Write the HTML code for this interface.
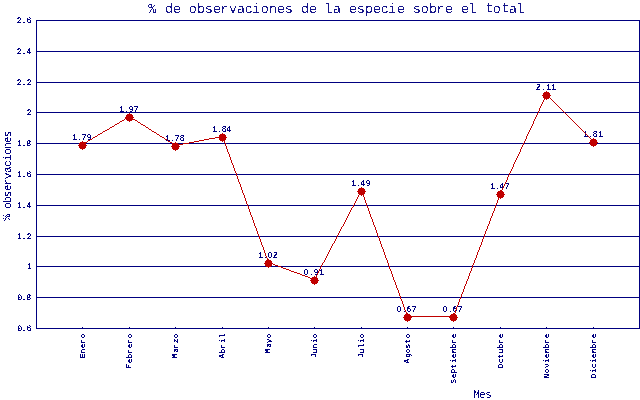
<!DOCTYPE html>
<html><head><meta charset="utf-8"><title>% de observaciones de la especie sobre el total</title>
<style>html,body{margin:0;padding:0;background:#fff;width:640px;height:400px;overflow:hidden}svg{display:block;shape-rendering:crispEdges}
text{font-family:"Liberation Mono",monospace;text-rendering:geometricPrecision}</style></head>
<body><svg width="640" height="400" viewBox="0 0 640 400">
<rect width="640" height="400" fill="#fff"/>
<path fill="#000080" d="M36 328h604v1h-604zM36 297h604v1h-604zM36 266h604v1h-604zM36 236h604v1h-604zM36 205h604v1h-604zM36 174h604v1h-604zM36 143h604v1h-604zM36 112h604v1h-604zM36 82h604v1h-604zM36 51h604v1h-604zM36 20h604v1h-604zM36 20h1v309h-1zM639 20h1v309h-1zM82 327h1v1h-1zM129 327h1v1h-1zM175 327h1v1h-1zM222 327h1v1h-1zM268 327h1v1h-1zM314 327h1v1h-1zM361 327h1v1h-1zM407 327h1v1h-1zM453 327h1v1h-1zM500 327h1v1h-1zM546 327h1v1h-1zM593 327h1v1h-1z"/>
<defs><filter id="cylab" x="-10%" y="-50%" width="120%" height="200%" color-interpolation-filters="sRGB"><feComponentTransfer><feFuncA type="discrete" tableValues="0 1 1"/></feComponentTransfer></filter><filter id="cmon" x="-10%" y="-50%" width="120%" height="200%" color-interpolation-filters="sRGB"><feComponentTransfer><feFuncA type="discrete" tableValues="0 1"/></feComponentTransfer></filter><filter id="clarge" x="-10%" y="-50%" width="120%" height="200%" color-interpolation-filters="sRGB"><feComponentTransfer><feFuncA type="discrete" tableValues="0 1"/></feComponentTransfer></filter><filter id="csmall" x="-10%" y="-50%" width="120%" height="200%" color-interpolation-filters="sRGB"><feComponentTransfer><feFuncA type="discrete" tableValues="0 1"/></feComponentTransfer></filter><filter id="cmes" x="-10%" y="-50%" width="120%" height="200%" color-interpolation-filters="sRGB"><feComponentTransfer><feFuncA type="discrete" tableValues="0 1"/></feComponentTransfer></filter><filter id="cvlab" x="-10%" y="-50%" width="120%" height="200%" color-interpolation-filters="sRGB"><feComponentTransfer><feFuncA type="discrete" tableValues="0 0 1"/></feComponentTransfer></filter></defs>
<g fill="#000080"><g filter="url(#cylab)"><text transform="translate(17 324) scale(0.985 1)" x="0.198 4.513 9.589" y="6.5" font-size="8.35" font-weight="normal">0.6</text>
<text transform="translate(17 293) scale(0.985 1)" x="0.198 4.513 9.335" y="6.5" font-size="8.35" font-weight="normal">0.8</text>
<text transform="translate(27 262) scale(0.985 1)" x="-0.056" y="6.5" font-size="8.35" font-weight="normal">1</text>
<text transform="translate(17 232) scale(0.985 1)" x="-0.056 4.513 9.843" y="6.5" font-size="8.35" font-weight="normal">1.2</text>
<text transform="translate(17 201) scale(0.985 1)" x="-0.056 4.513 9.335" y="6.5" font-size="8.35" font-weight="normal">1.4</text>
<text transform="translate(17 170) scale(0.985 1)" x="-0.056 4.513 9.589" y="6.5" font-size="8.35" font-weight="normal">1.6</text>
<text transform="translate(17 139) scale(0.985 1)" x="-0.056 4.513 9.335" y="6.5" font-size="8.35" font-weight="normal">1.8</text>
<text transform="translate(27 108) scale(0.985 1)" x="-0.309" y="6.5" font-size="8.35" font-weight="normal">2</text>
<text transform="translate(17 78) scale(0.985 1)" x="-0.309 4.513 9.843" y="6.5" font-size="8.35" font-weight="normal">2.2</text>
<text transform="translate(17 47) scale(0.985 1)" x="-0.309 4.513 9.335" y="6.5" font-size="8.35" font-weight="normal">2.4</text>
<text transform="translate(17 16) scale(0.985 1)" x="-0.309 4.513 9.589" y="6.5" font-size="8.35" font-weight="normal">2.6</text></g>
<g filter="url(#cmon)"><text transform="translate(78 358) rotate(-90)" x="-0.25 4.5 9.75 14.25 19.75" y="6.5" font-size="7.75" font-weight="bold">Enero</text>
<text transform="translate(125 368) rotate(-90)" x="-0.5 4.75 9.5 14.25 19.75 24.25 29.75" y="6 6.5 6.5 6.5 6.5 6.5 6.5" font-size="7.75" font-weight="bold">Febrero</text>
<text transform="translate(171 358) rotate(-90)" x="-0.5 5 9.25 14.75 19.75" y="6 7 6.5 6.5 6.5" font-size="7.75" font-weight="bold">Marzo</text>
<text transform="translate(218 358) rotate(-90)" x="-0.5 4.5 9.25 15 20" y="6 6.5 6.5 6.5 6.5" font-size="7.75" font-weight="bold">Abril</text>
<text transform="translate(264 353) rotate(-90)" x="-0.5 5 9.75 14.75" y="6 7 6.5 6.5" font-size="7.75" font-weight="bold">Mayo</text>
<text transform="translate(310 358) rotate(-90)" x="0.25 4.75 9.5 15 19.75" y="6 6.5 6.5 6.5 6.5" font-size="7.75" font-weight="bold">Junio</text>
<text transform="translate(357 358) rotate(-90)" x="0.25 4.75 10 15 19.75" y="6 6.5 6.5 6.5 6.5" font-size="7.75" font-weight="bold">Julio</text>
<text transform="translate(403 363) rotate(-90)" x="-0.5 5 9.75 14.5 19.5 24.75" y="6 6.5 6.5 6.5 6.5 6.5" font-size="7.75" font-weight="bold">Agosto</text>
<text transform="translate(449 383) rotate(-90)" x="-0.5 4.75 9.5 14.5 20 24.75 29.5 34.5 39.25 44.75" y="6.5 6.5 6 6.5 6.5 6.5 6.5 6.5 6.5 6.5" font-size="7.75" font-weight="bold">Septiembre</text>
<text transform="translate(496 368) rotate(-90)" x="-0.5 4.75 9.5 14.75 19.5 24.25 29.75" y="6.5" font-size="7.75" font-weight="bold">Octubre</text>
<text transform="translate(542 378) rotate(-90)" x="-0.25 4.75 10 15 19.75 24.5 29.5 34.25 39.75" y="6.5" font-size="7.75" font-weight="bold">Noviembre</text>
<text transform="translate(589 378) rotate(-90)" x="-0.25 5 9.75 15 19.75 24.5 29.5 34.25 39.75" y="6.5" font-size="7.75" font-weight="bold">Diciembre</text></g>
<g filter="url(#clarge)" opacity="0.91"><text transform="translate(149 0) scale(0.975 1)" x="-0.77 7.948 16.41 24.615 32.563 40.769 49.23 57.179 65.64 73.076 82.051 90.256 98.204 105.64 114.615 123.076 131.281 139.23 147.435 155.897 164.102 172.051 179.999 188.717 196.666 205.128 213.076 221.538 229.743 237.692 245.128 254.358 262.307 270.512 278.717 287.179 294.615 303.589 311.538 319.999 327.692 336.153 345.128 352.563 361.538 369.23 376.922" y="12.5 12.5 12.5 12.5 12.5 12.5 12.5 12.5 12.5 12.5 12.5 12.5 12.5 12.5 12.5 12.5 12.5 12.5 12.5 12.5 12.5 12.5 12.5 12.5 12.5 12.5 12.5 12.5 12.5 12.5 12.5 12.5 12.5 12.5 12.5 12.5 12.5 12.5 12.5 12.5 12.5 12.5 12 12.5 12 12.5 12.5" font-size="13.75" font-weight="normal">% de observaciones de la especie sobre el total</text></g>
<g filter="url(#csmall)" opacity="0.99"><text transform="translate(0 220) rotate(-90) scale(1.015 1)" x="-0.873 4.546 10.95 16.861 22.28 28.437 34.102 40.26 46.418 52.329 58.24 64.152 70.063 75.728 81.393" y="9.5 10.5 10.5 10.5 10.5 10.5 10.5 10.5 10.5 10.5 10.5 10.5 10.5 10.5 10.5" font-size="11.3" font-weight="normal">% observaciones</text></g>
<g filter="url(#cmes)"><text transform="translate(474 387) scale(0.95 1)" x="-0.864 5.452 11.768" y="11" font-size="11.65" font-weight="normal">Mes</text></g>
<g filter="url(#cvlab)"><text transform="translate(72 133) scale(0.95 1)" x="-0.03 4.706 9.97 15.233" y="6.5" font-size="9.1" font-weight="bold" stroke="#000080" stroke-width="0.1">1.79</text>
<text transform="translate(119 105) scale(0.95 1)" x="-0.03 4.706 9.97 15.233" y="6.5" font-size="9.1" font-weight="bold" stroke="#000080" stroke-width="0.1">1.97</text>
<text transform="translate(165 134) scale(0.95 1)" x="-0.03 4.706 9.97 15.233" y="6.5" font-size="9.1" font-weight="bold" stroke="#000080" stroke-width="0.1">1.78</text>
<text transform="translate(212 125) scale(0.95 1)" x="-0.03 4.706 9.97 14.706" y="6.5" font-size="9.1" font-weight="bold" stroke="#000080" stroke-width="0.1">1.84</text>
<text transform="translate(258 251) scale(0.95 1)" x="-0.03 4.706 9.97 15.233" y="6.5" font-size="9.1" font-weight="bold" stroke="#000080" stroke-width="0.1">1.02</text>
<text transform="translate(304 268) scale(0.95 1)" x="-0.557 4.706 9.97 15.759" y="6.5" font-size="9.1" font-weight="bold" stroke="#000080" stroke-width="0.1">0.91</text>
<text transform="translate(351 179) scale(0.95 1)" x="-0.03 4.706 9.443 15.233" y="6.5" font-size="9.1" font-weight="bold" stroke="#000080" stroke-width="0.1">1.49</text>
<text transform="translate(397 305) scale(0.95 1)" x="-0.557 4.706 9.97 15.233" y="6.5" font-size="9.1" font-weight="bold" stroke="#000080" stroke-width="0.1">0.67</text>
<text transform="translate(443 305) scale(0.95 1)" x="-0.557 4.706 9.97 15.233" y="6.5" font-size="9.1" font-weight="bold" stroke="#000080" stroke-width="0.1">0.67</text>
<text transform="translate(490 182) scale(0.95 1)" x="-0.03 4.706 9.443 15.233" y="6.5" font-size="9.1" font-weight="bold" stroke="#000080" stroke-width="0.1">1.47</text>
<text transform="translate(536 83) scale(0.95 1)" x="-0.557 4.706 10.496 15.759" y="6.5" font-size="9.1" font-weight="bold" stroke="#000080" stroke-width="0.1">2.11</text>
<text transform="translate(583 130) scale(0.95 1)" x="-0.03 4.706 9.97 15.759" y="6.5" font-size="9.1" font-weight="bold" stroke="#000080" stroke-width="0.1">1.81</text></g></g>
<path fill="#c00000" d="M546 94h1v1h-1zM546 95h2v1h-2zM545 96h1v1h-1zM548 96h1v1h-1zM545 97h1v1h-1zM549 97h1v1h-1zM544 98h1v1h-1zM550 98h1v1h-1zM544 99h1v1h-1zM551 99h1v1h-1zM543 100h1v1h-1zM552 100h1v1h-1zM543 101h1v1h-1zM553 101h1v1h-1zM542 102h1v1h-1zM554 102h1v1h-1zM542 103h1v1h-1zM555 103h1v1h-1zM541 104h1v1h-1zM556 104h1v1h-1zM541 105h1v1h-1zM557 105h1v1h-1zM540 106h1v1h-1zM558 106h1v1h-1zM540 107h1v1h-1zM559 107h1v1h-1zM539 108h1v1h-1zM560 108h1v1h-1zM539 109h1v1h-1zM561 109h1v1h-1zM539 110h1v1h-1zM562 110h1v1h-1zM538 111h1v1h-1zM563 111h1v1h-1zM538 112h1v1h-1zM564 112h1v1h-1zM537 113h1v1h-1zM565 113h1v1h-1zM537 114h1v1h-1zM566 114h1v1h-1zM536 115h1v1h-1zM567 115h1v1h-1zM129 116h1v1h-1zM536 116h1v1h-1zM568 116h1v1h-1zM127 117h2v1h-2zM130 117h2v1h-2zM535 117h1v1h-1zM569 117h1v1h-1zM125 118h2v1h-2zM132 118h1v1h-1zM535 118h1v1h-1zM570 118h1v1h-1zM124 119h1v1h-1zM133 119h2v1h-2zM534 119h1v1h-1zM571 119h1v1h-1zM122 120h2v1h-2zM135 120h2v1h-2zM534 120h1v1h-1zM572 120h1v1h-1zM120 121h2v1h-2zM137 121h1v1h-1zM533 121h1v1h-1zM573 121h1v1h-1zM119 122h1v1h-1zM138 122h2v1h-2zM533 122h1v1h-1zM574 122h1v1h-1zM117 123h2v1h-2zM140 123h1v1h-1zM533 123h1v1h-1zM575 123h1v1h-1zM115 124h2v1h-2zM141 124h2v1h-2zM532 124h1v1h-1zM576 124h1v1h-1zM114 125h1v1h-1zM143 125h2v1h-2zM532 125h1v1h-1zM577 125h1v1h-1zM112 126h2v1h-2zM145 126h1v1h-1zM531 126h1v1h-1zM578 126h1v1h-1zM110 127h2v1h-2zM146 127h2v1h-2zM531 127h1v1h-1zM579 127h1v1h-1zM109 128h1v1h-1zM148 128h1v1h-1zM530 128h1v1h-1zM580 128h1v1h-1zM107 129h2v1h-2zM149 129h2v1h-2zM530 129h1v1h-1zM581 129h1v1h-1zM105 130h2v1h-2zM151 130h1v1h-1zM529 130h1v1h-1zM582 130h1v1h-1zM103 131h2v1h-2zM152 131h2v1h-2zM529 131h1v1h-1zM583 131h1v1h-1zM102 132h1v1h-1zM154 132h2v1h-2zM528 132h1v1h-1zM584 132h1v1h-1zM100 133h2v1h-2zM156 133h1v1h-1zM528 133h1v1h-1zM585 133h1v1h-1zM98 134h2v1h-2zM157 134h2v1h-2zM527 134h1v1h-1zM586 134h1v1h-1zM97 135h1v1h-1zM159 135h1v1h-1zM527 135h1v1h-1zM587 135h1v1h-1zM95 136h2v1h-2zM160 136h2v1h-2zM220 136h3v1h-3zM526 136h1v1h-1zM588 136h1v1h-1zM93 137h2v1h-2zM162 137h2v1h-2zM215 137h5v1h-5zM222 137h1v1h-1zM526 137h1v1h-1zM589 137h1v1h-1zM92 138h1v1h-1zM164 138h1v1h-1zM209 138h6v1h-6zM223 138h1v1h-1zM526 138h1v1h-1zM590 138h1v1h-1zM90 139h2v1h-2zM165 139h2v1h-2zM204 139h5v1h-5zM223 139h1v1h-1zM525 139h1v1h-1zM591 139h1v1h-1zM88 140h2v1h-2zM167 140h1v1h-1zM199 140h5v1h-5zM223 140h1v1h-1zM525 140h1v1h-1zM592 140h1v1h-1zM87 141h1v1h-1zM168 141h2v1h-2zM194 141h5v1h-5zM224 141h1v1h-1zM524 141h1v1h-1zM593 141h1v1h-1zM85 142h2v1h-2zM170 142h2v1h-2zM189 142h5v1h-5zM224 142h1v1h-1zM524 142h1v1h-1zM83 143h2v1h-2zM172 143h1v1h-1zM183 143h6v1h-6zM225 143h1v1h-1zM523 143h1v1h-1zM82 144h1v1h-1zM173 144h2v1h-2zM178 144h5v1h-5zM225 144h1v1h-1zM523 144h1v1h-1zM175 145h3v1h-3zM225 145h1v1h-1zM522 145h1v1h-1zM226 146h1v1h-1zM522 146h1v1h-1zM226 147h1v1h-1zM521 147h1v1h-1zM226 148h1v1h-1zM521 148h1v1h-1zM227 149h1v1h-1zM520 149h1v1h-1zM227 150h1v1h-1zM520 150h1v1h-1zM227 151h1v1h-1zM520 151h1v1h-1zM228 152h1v1h-1zM519 152h1v1h-1zM228 153h1v1h-1zM519 153h1v1h-1zM229 154h1v1h-1zM518 154h1v1h-1zM229 155h1v1h-1zM518 155h1v1h-1zM229 156h1v1h-1zM517 156h1v1h-1zM230 157h1v1h-1zM517 157h1v1h-1zM230 158h1v1h-1zM516 158h1v1h-1zM230 159h1v1h-1zM516 159h1v1h-1zM231 160h1v1h-1zM515 160h1v1h-1zM231 161h1v1h-1zM515 161h1v1h-1zM231 162h1v1h-1zM514 162h1v1h-1zM232 163h1v1h-1zM514 163h1v1h-1zM232 164h1v1h-1zM513 164h1v1h-1zM233 165h1v1h-1zM513 165h1v1h-1zM233 166h1v1h-1zM513 166h1v1h-1zM233 167h1v1h-1zM512 167h1v1h-1zM234 168h1v1h-1zM512 168h1v1h-1zM234 169h1v1h-1zM511 169h1v1h-1zM234 170h1v1h-1zM511 170h1v1h-1zM235 171h1v1h-1zM510 171h1v1h-1zM235 172h1v1h-1zM510 172h1v1h-1zM236 173h1v1h-1zM509 173h1v1h-1zM236 174h1v1h-1zM509 174h1v1h-1zM236 175h1v1h-1zM508 175h1v1h-1zM237 176h1v1h-1zM508 176h1v1h-1zM237 177h1v1h-1zM507 177h1v1h-1zM237 178h1v1h-1zM507 178h1v1h-1zM238 179h1v1h-1zM507 179h1v1h-1zM238 180h1v1h-1zM506 180h1v1h-1zM238 181h1v1h-1zM506 181h1v1h-1zM239 182h1v1h-1zM505 182h1v1h-1zM239 183h1v1h-1zM505 183h1v1h-1zM240 184h1v1h-1zM504 184h1v1h-1zM240 185h1v1h-1zM504 185h1v1h-1zM240 186h1v1h-1zM503 186h1v1h-1zM241 187h1v1h-1zM503 187h1v1h-1zM241 188h1v1h-1zM502 188h1v1h-1zM241 189h1v1h-1zM502 189h1v1h-1zM242 190h1v1h-1zM361 190h1v1h-1zM501 190h1v1h-1zM242 191h1v1h-1zM360 191h2v1h-2zM501 191h1v1h-1zM242 192h1v1h-1zM360 192h1v1h-1zM362 192h1v1h-1zM500 192h1v1h-1zM243 193h1v1h-1zM359 193h1v1h-1zM362 193h1v1h-1zM500 193h1v1h-1zM243 194h1v1h-1zM359 194h1v1h-1zM362 194h1v1h-1zM500 194h1v1h-1zM244 195h1v1h-1zM358 195h1v1h-1zM363 195h1v1h-1zM499 195h1v1h-1zM244 196h1v1h-1zM358 196h1v1h-1zM363 196h1v1h-1zM499 196h1v1h-1zM244 197h1v1h-1zM357 197h1v1h-1zM364 197h1v1h-1zM498 197h1v1h-1zM245 198h1v1h-1zM357 198h1v1h-1zM364 198h1v1h-1zM498 198h1v1h-1zM245 199h1v1h-1zM356 199h1v1h-1zM364 199h1v1h-1zM498 199h1v1h-1zM245 200h1v1h-1zM356 200h1v1h-1zM365 200h1v1h-1zM497 200h1v1h-1zM246 201h1v1h-1zM355 201h1v1h-1zM365 201h1v1h-1zM497 201h1v1h-1zM246 202h1v1h-1zM355 202h1v1h-1zM365 202h1v1h-1zM497 202h1v1h-1zM246 203h1v1h-1zM354 203h1v1h-1zM366 203h1v1h-1zM496 203h1v1h-1zM247 204h1v1h-1zM354 204h1v1h-1zM366 204h1v1h-1zM496 204h1v1h-1zM247 205h1v1h-1zM353 205h1v1h-1zM366 205h1v1h-1zM495 205h1v1h-1zM248 206h1v1h-1zM353 206h1v1h-1zM367 206h1v1h-1zM495 206h1v1h-1zM248 207h1v1h-1zM352 207h1v1h-1zM367 207h1v1h-1zM495 207h1v1h-1zM248 208h1v1h-1zM351 208h1v1h-1zM368 208h1v1h-1zM494 208h1v1h-1zM249 209h1v1h-1zM351 209h1v1h-1zM368 209h1v1h-1zM494 209h1v1h-1zM249 210h1v1h-1zM350 210h1v1h-1zM368 210h1v1h-1zM494 210h1v1h-1zM249 211h1v1h-1zM350 211h1v1h-1zM369 211h1v1h-1zM493 211h1v1h-1zM250 212h1v1h-1zM349 212h1v1h-1zM369 212h1v1h-1zM493 212h1v1h-1zM250 213h1v1h-1zM349 213h1v1h-1zM369 213h1v1h-1zM492 213h1v1h-1zM250 214h1v1h-1zM348 214h1v1h-1zM370 214h1v1h-1zM492 214h1v1h-1zM251 215h1v1h-1zM348 215h1v1h-1zM370 215h1v1h-1zM492 215h1v1h-1zM251 216h1v1h-1zM347 216h1v1h-1zM370 216h1v1h-1zM491 216h1v1h-1zM252 217h1v1h-1zM347 217h1v1h-1zM371 217h1v1h-1zM491 217h1v1h-1zM252 218h1v1h-1zM346 218h1v1h-1zM371 218h1v1h-1zM490 218h1v1h-1zM252 219h1v1h-1zM346 219h1v1h-1zM372 219h1v1h-1zM490 219h1v1h-1zM253 220h1v1h-1zM345 220h1v1h-1zM372 220h1v1h-1zM490 220h1v1h-1zM253 221h1v1h-1zM345 221h1v1h-1zM372 221h1v1h-1zM489 221h1v1h-1zM253 222h1v1h-1zM344 222h1v1h-1zM373 222h1v1h-1zM489 222h1v1h-1zM254 223h1v1h-1zM344 223h1v1h-1zM373 223h1v1h-1zM489 223h1v1h-1zM254 224h1v1h-1zM343 224h1v1h-1zM373 224h1v1h-1zM488 224h1v1h-1zM254 225h1v1h-1zM343 225h1v1h-1zM374 225h1v1h-1zM488 225h1v1h-1zM255 226h1v1h-1zM342 226h1v1h-1zM374 226h1v1h-1zM487 226h1v1h-1zM255 227h1v1h-1zM341 227h1v1h-1zM375 227h1v1h-1zM487 227h1v1h-1zM256 228h1v1h-1zM341 228h1v1h-1zM375 228h1v1h-1zM487 228h1v1h-1zM256 229h1v1h-1zM340 229h1v1h-1zM375 229h1v1h-1zM486 229h1v1h-1zM256 230h1v1h-1zM340 230h1v1h-1zM376 230h1v1h-1zM486 230h1v1h-1zM257 231h1v1h-1zM339 231h1v1h-1zM376 231h1v1h-1zM485 231h1v1h-1zM257 232h1v1h-1zM339 232h1v1h-1zM376 232h1v1h-1zM485 232h1v1h-1zM257 233h1v1h-1zM338 233h1v1h-1zM377 233h1v1h-1zM485 233h1v1h-1zM258 234h1v1h-1zM338 234h1v1h-1zM377 234h1v1h-1zM484 234h1v1h-1zM258 235h1v1h-1zM337 235h1v1h-1zM377 235h1v1h-1zM484 235h1v1h-1zM259 236h1v1h-1zM337 236h1v1h-1zM378 236h1v1h-1zM484 236h1v1h-1zM259 237h1v1h-1zM336 237h1v1h-1zM378 237h1v1h-1zM483 237h1v1h-1zM259 238h1v1h-1zM336 238h1v1h-1zM379 238h1v1h-1zM483 238h1v1h-1zM260 239h1v1h-1zM335 239h1v1h-1zM379 239h1v1h-1zM482 239h1v1h-1zM260 240h1v1h-1zM335 240h1v1h-1zM379 240h1v1h-1zM482 240h1v1h-1zM260 241h1v1h-1zM334 241h1v1h-1zM380 241h1v1h-1zM482 241h1v1h-1zM261 242h1v1h-1zM334 242h1v1h-1zM380 242h1v1h-1zM481 242h1v1h-1zM261 243h1v1h-1zM333 243h1v1h-1zM380 243h1v1h-1zM481 243h1v1h-1zM261 244h1v1h-1zM332 244h1v1h-1zM381 244h1v1h-1zM481 244h1v1h-1zM262 245h1v1h-1zM332 245h1v1h-1zM381 245h1v1h-1zM480 245h1v1h-1zM262 246h1v1h-1zM331 246h1v1h-1zM381 246h1v1h-1zM480 246h1v1h-1zM263 247h1v1h-1zM331 247h1v1h-1zM382 247h1v1h-1zM479 247h1v1h-1zM263 248h1v1h-1zM330 248h1v1h-1zM382 248h1v1h-1zM479 248h1v1h-1zM263 249h1v1h-1zM330 249h1v1h-1zM383 249h1v1h-1zM479 249h1v1h-1zM264 250h1v1h-1zM329 250h1v1h-1zM383 250h1v1h-1zM478 250h1v1h-1zM264 251h1v1h-1zM329 251h1v1h-1zM383 251h1v1h-1zM478 251h1v1h-1zM264 252h1v1h-1zM328 252h1v1h-1zM384 252h1v1h-1zM477 252h1v1h-1zM265 253h1v1h-1zM328 253h1v1h-1zM384 253h1v1h-1zM477 253h1v1h-1zM265 254h1v1h-1zM327 254h1v1h-1zM384 254h1v1h-1zM477 254h1v1h-1zM265 255h1v1h-1zM327 255h1v1h-1zM385 255h1v1h-1zM476 255h1v1h-1zM266 256h1v1h-1zM326 256h1v1h-1zM385 256h1v1h-1zM476 256h1v1h-1zM266 257h1v1h-1zM326 257h1v1h-1zM385 257h1v1h-1zM476 257h1v1h-1zM267 258h1v1h-1zM325 258h1v1h-1zM386 258h1v1h-1zM475 258h1v1h-1zM267 259h1v1h-1zM325 259h1v1h-1zM386 259h1v1h-1zM475 259h1v1h-1zM267 260h1v1h-1zM324 260h1v1h-1zM387 260h1v1h-1zM474 260h1v1h-1zM268 261h1v1h-1zM324 261h1v1h-1zM387 261h1v1h-1zM474 261h1v1h-1zM268 262h2v1h-2zM323 262h1v1h-1zM387 262h1v1h-1zM474 262h1v1h-1zM270 263h3v1h-3zM322 263h1v1h-1zM388 263h1v1h-1zM473 263h1v1h-1zM273 264h2v1h-2zM322 264h1v1h-1zM388 264h1v1h-1zM473 264h1v1h-1zM275 265h3v1h-3zM321 265h1v1h-1zM388 265h1v1h-1zM472 265h1v1h-1zM278 266h3v1h-3zM321 266h1v1h-1zM389 266h1v1h-1zM472 266h1v1h-1zM281 267h2v1h-2zM320 267h1v1h-1zM389 267h1v1h-1zM472 267h1v1h-1zM283 268h3v1h-3zM320 268h1v1h-1zM389 268h1v1h-1zM471 268h1v1h-1zM286 269h3v1h-3zM319 269h1v1h-1zM390 269h1v1h-1zM471 269h1v1h-1zM289 270h2v1h-2zM319 270h1v1h-1zM390 270h1v1h-1zM471 270h1v1h-1zM291 271h3v1h-3zM318 271h1v1h-1zM391 271h1v1h-1zM470 271h1v1h-1zM294 272h3v1h-3zM318 272h1v1h-1zM391 272h1v1h-1zM470 272h1v1h-1zM297 273h3v1h-3zM317 273h1v1h-1zM391 273h1v1h-1zM469 273h1v1h-1zM300 274h2v1h-2zM317 274h1v1h-1zM392 274h1v1h-1zM469 274h1v1h-1zM302 275h3v1h-3zM316 275h1v1h-1zM392 275h1v1h-1zM469 275h1v1h-1zM305 276h3v1h-3zM316 276h1v1h-1zM392 276h1v1h-1zM468 276h1v1h-1zM308 277h2v1h-2zM315 277h1v1h-1zM393 277h1v1h-1zM468 277h1v1h-1zM310 278h3v1h-3zM315 278h1v1h-1zM393 278h1v1h-1zM468 278h1v1h-1zM313 279h2v1h-2zM393 279h1v1h-1zM467 279h1v1h-1zM394 280h1v1h-1zM467 280h1v1h-1zM394 281h1v1h-1zM466 281h1v1h-1zM395 282h1v1h-1zM466 282h1v1h-1zM395 283h1v1h-1zM466 283h1v1h-1zM395 284h1v1h-1zM465 284h1v1h-1zM396 285h1v1h-1zM465 285h1v1h-1zM396 286h1v1h-1zM464 286h1v1h-1zM396 287h1v1h-1zM464 287h1v1h-1zM397 288h1v1h-1zM464 288h1v1h-1zM397 289h1v1h-1zM463 289h1v1h-1zM398 290h1v1h-1zM463 290h1v1h-1zM398 291h1v1h-1zM463 291h1v1h-1zM398 292h1v1h-1zM462 292h1v1h-1zM399 293h1v1h-1zM462 293h1v1h-1zM399 294h1v1h-1zM461 294h1v1h-1zM399 295h1v1h-1zM461 295h1v1h-1zM400 296h1v1h-1zM461 296h1v1h-1zM400 297h1v1h-1zM460 297h1v1h-1zM400 298h1v1h-1zM460 298h1v1h-1zM401 299h1v1h-1zM459 299h1v1h-1zM401 300h1v1h-1zM459 300h1v1h-1zM402 301h1v1h-1zM459 301h1v1h-1zM402 302h1v1h-1zM458 302h1v1h-1zM402 303h1v1h-1zM458 303h1v1h-1zM403 304h1v1h-1zM458 304h1v1h-1zM403 305h1v1h-1zM457 305h1v1h-1zM403 306h1v1h-1zM457 306h1v1h-1zM404 307h1v1h-1zM456 307h1v1h-1zM404 308h1v1h-1zM456 308h1v1h-1zM404 309h1v1h-1zM456 309h1v1h-1zM405 310h1v1h-1zM455 310h1v1h-1zM405 311h1v1h-1zM455 311h1v1h-1zM406 312h1v1h-1zM455 312h1v1h-1zM406 313h1v1h-1zM454 313h1v1h-1zM406 314h1v1h-1zM454 314h1v1h-1zM407 315h1v1h-1zM453 315h1v1h-1zM407 316h47v1h-47z"/>
<path fill="#c00000" d="M546 91h1v1h-1zM544 92h5v1h-5zM543 93h7v1h-7zM543 94h7v1h-7zM542 95h9v1h-9zM543 96h7v1h-7zM543 97h7v1h-7zM544 98h5v1h-5zM546 99h1v1h-1zM129 113h1v1h-1zM127 114h5v1h-5zM126 115h7v1h-7zM126 116h7v1h-7zM125 117h9v1h-9zM126 118h7v1h-7zM126 119h7v1h-7zM127 120h5v1h-5zM129 121h1v1h-1zM222 133h1v1h-1zM220 134h5v1h-5zM219 135h7v1h-7zM219 136h7v1h-7zM218 137h9v1h-9zM219 138h7v1h-7zM593 138h1v1h-1zM219 139h7v1h-7zM591 139h5v1h-5zM220 140h5v1h-5zM590 140h7v1h-7zM82 141h1v1h-1zM222 141h1v1h-1zM590 141h7v1h-7zM80 142h5v1h-5zM175 142h1v1h-1zM589 142h9v1h-9zM79 143h7v1h-7zM173 143h5v1h-5zM590 143h7v1h-7zM79 144h7v1h-7zM172 144h7v1h-7zM590 144h7v1h-7zM78 145h9v1h-9zM172 145h7v1h-7zM591 145h5v1h-5zM79 146h7v1h-7zM171 146h9v1h-9zM593 146h1v1h-1zM79 147h7v1h-7zM172 147h7v1h-7zM80 148h5v1h-5zM172 148h7v1h-7zM82 149h1v1h-1zM173 149h5v1h-5zM175 150h1v1h-1zM361 187h1v1h-1zM359 188h5v1h-5zM358 189h7v1h-7zM358 190h7v1h-7zM500 190h1v1h-1zM357 191h9v1h-9zM498 191h5v1h-5zM358 192h7v1h-7zM497 192h7v1h-7zM358 193h7v1h-7zM497 193h7v1h-7zM359 194h5v1h-5zM496 194h9v1h-9zM361 195h1v1h-1zM497 195h7v1h-7zM497 196h7v1h-7zM498 197h5v1h-5zM500 198h1v1h-1zM268 259h1v1h-1zM266 260h5v1h-5zM265 261h7v1h-7zM265 262h7v1h-7zM264 263h9v1h-9zM265 264h7v1h-7zM265 265h7v1h-7zM266 266h5v1h-5zM268 267h1v1h-1zM314 276h1v1h-1zM312 277h5v1h-5zM311 278h7v1h-7zM311 279h7v1h-7zM310 280h9v1h-9zM311 281h7v1h-7zM311 282h7v1h-7zM312 283h5v1h-5zM314 284h1v1h-1zM407 313h1v1h-1zM453 313h1v1h-1zM405 314h5v1h-5zM451 314h5v1h-5zM404 315h7v1h-7zM450 315h7v1h-7zM404 316h7v1h-7zM450 316h7v1h-7zM403 317h9v1h-9zM449 317h9v1h-9zM404 318h7v1h-7zM450 318h7v1h-7zM404 319h7v1h-7zM450 319h7v1h-7zM405 320h5v1h-5zM451 320h5v1h-5zM407 321h1v1h-1zM453 321h1v1h-1z"/>
</svg></body></html>
